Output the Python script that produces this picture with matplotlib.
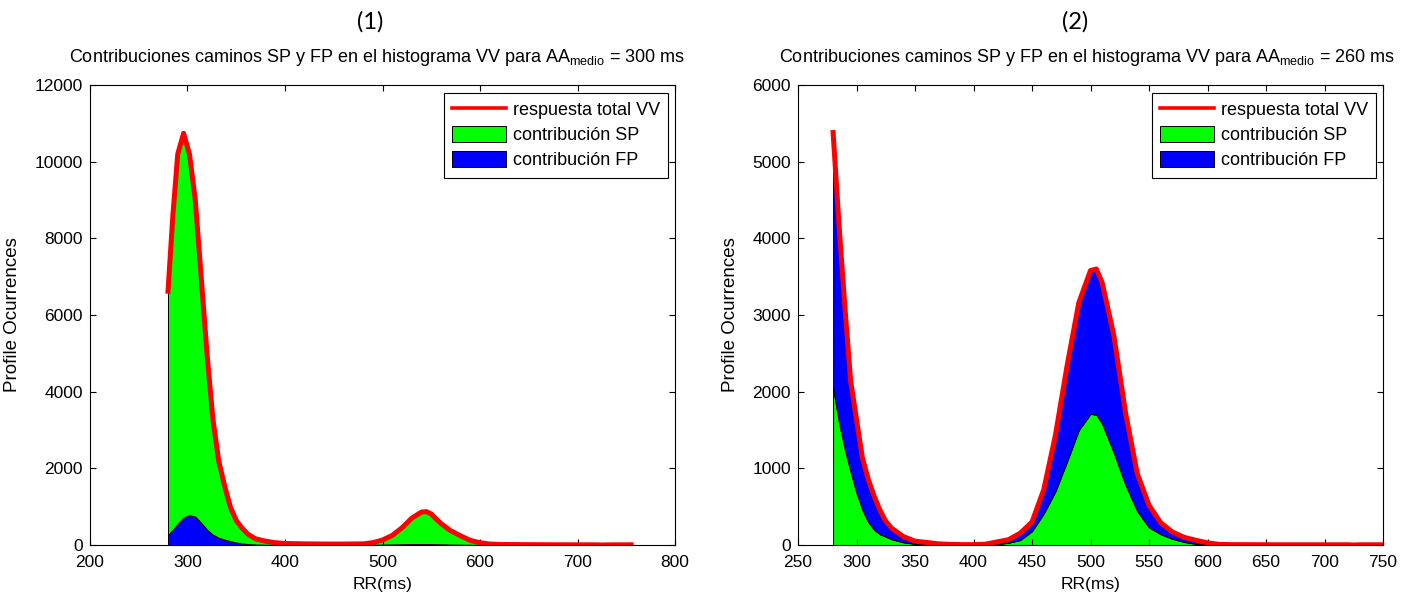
import matplotlib.pyplot as plt
from matplotlib.lines import Line2D
from matplotlib.patches import Patch

plt.rcParams['font.family'] = ['Liberation Sans', 'DejaVu Sans']
plt.rcParams['mathtext.fontset'] = 'custom'
plt.rcParams['mathtext.rm'] = 'Liberation Sans'
plt.rcParams['mathtext.it'] = 'Liberation Sans'

# --- panel (1): AA medio = 300 ms ---
rr1 = [280, 285, 290, 296, 302, 308, 314, 320, 326, 332, 338, 344, 350, 356,
       362, 370, 380, 390, 400, 420, 440, 460, 480, 490, 500, 510, 520, 530,
       540, 545, 550, 555, 560, 570, 580, 590, 600, 610, 620, 640, 660, 680,
       700, 720, 725, 730, 740, 755]
total1 = [6620, 8600, 10200, 10740, 10200, 9000, 7000, 5000, 3300, 2200, 1550,
          990, 640, 440, 280, 160, 100, 60, 40, 30, 25, 25, 30, 60, 130, 250,
          450, 700, 860, 870, 810, 680, 560, 370, 240, 120, 60, 25, 15, 10, 8,
          6, 5, 4, 0, 3, 5, 5]
fp1 = [260, 400, 560, 720, 780, 740, 580, 400, 270, 190, 140, 100, 65, 40, 25,
       12, 6, 4, 3, 2, 2, 2, 3, 5, 10, 15, 20, 25, 25, 25, 25, 20, 18, 12, 8,
       5, 3, 2, 1, 0, 0, 0, 0, 0, 0, 0, 0, 0]

# --- panel (2): AA medio = 260 ms ---
rr2 = [280, 285, 290, 295, 300, 305, 310, 315, 320, 325, 330, 340, 350, 360,
       370, 380, 390, 400, 410, 420, 430, 440, 450, 460, 470, 480, 490, 500,
       505, 510, 520, 530, 540, 550, 560, 570, 580, 590, 600, 610, 620, 640,
       660, 680, 700, 720, 725, 730, 750]
total2 = [5380, 4190, 3120, 2140, 1640, 1140, 860, 640, 455, 310, 220, 110, 50,
          33, 15, 8, 5, 5, 10, 40, 70, 155, 300, 720, 1430, 2340, 3160, 3580,
          3600, 3420, 2730, 1720, 930, 520, 290, 170, 100, 62, 28, 8, 5, 4, 3,
          3, 3, 3, 0, 3, 3]
sp2 = [2050, 1600, 1250, 950, 680, 460, 300, 200, 140, 110, 75, 35, 15, 8, 5,
       3, 2, 2, 5, 10, 30, 65, 180, 410, 700, 1090, 1500, 1710, 1700, 1580,
       1200, 780, 440, 230, 140, 80, 40, 15, 5, 2, 1, 0, 0, 0, 0, 0, 0, 0, 0]

xticks1 = [200, 300, 400, 500, 600, 700, 800]
yticks1 = [0, 2000, 4000, 6000, 8000, 10000, 12000]
xticks2 = [250, 300, 350, 400, 450, 500, 550, 600, 650, 700, 750]
yticks2 = [0, 1000, 2000, 3000, 4000, 5000, 6000]

RED = '#ff0000'
GREEN = '#00ff00'
BLUE = '#0000ff'
FS = 12.5

W, H = 1413, 594
fig = plt.figure(figsize=(W / 100, H / 100), dpi=100)


def panel(ax, rr, lower, total, c_low, c_up, xticks, yticks):
    ax.fill_between(rr, 0, lower, facecolor=c_low, edgecolor='k', lw=0.7)
    ax.fill_between(rr, lower, total, facecolor=c_up, edgecolor='k', lw=0.7)
    ax.plot(rr, total, color=RED, lw=3.6)
    ax.set_xlim(xticks[0], xticks[-1])
    ax.set_ylim(yticks[0], yticks[-1])
    ax.set_xticks(xticks)
    ax.set_yticks(yticks)
    ax.tick_params(direction='in', top=True, right=True, length=4, width=0.8,
                   labelsize=FS)
    ax.tick_params(axis='x', pad=7)
    ax.tick_params(axis='y', pad=5)
    for s in ax.spines.values():
        s.set_linewidth(0.8)
    handles = [Line2D([], [], color=RED, lw=2.6),
               Patch(facecolor=GREEN, edgecolor='k', lw=0.7),
               Patch(facecolor=BLUE, edgecolor='k', lw=0.7)]
    labels = ['respuesta total VV', 'contribución SP', 'contribución FP']
    leg = ax.legend(handles, labels, loc='upper right',
                    bbox_to_anchor=(0.988, 0.983), borderaxespad=0,
                    fontsize=FS + 0.5, fancybox=False, framealpha=1,
                    handlelength=3.0, handleheight=1.0, handletextpad=0.35,
                    labelspacing=0.38, borderpad=0.45)
    leg.get_frame().set_edgecolor('k')
    leg.get_frame().set_linewidth(0.8)


ax1 = fig.add_axes([90 / W, (H - 545) / H, 585 / W, 460 / H])
panel(ax1, rr1, fp1, total1, BLUE, GREEN, xticks1, yticks1)
ax2 = fig.add_axes([798 / W, (H - 545) / H, 585 / W, 460 / H])
panel(ax2, rr2, sp2, total2, GREEN, BLUE, xticks2, yticks2)

for ax, num, aa, cx, tx in [(ax1, '(1)', 300, 377, 370),
                            (ax2, '(2)', 260, 1087, 1075)]:
    fig.text(tx / W, 1 - 22 / H, num, ha='center', va='center',
             fontsize=17, family=['Lato', 'DejaVu Sans'])
    fig.text(cx / W, 1 - 57 / H,
             'Contribuciones caminos SP y FP en el histograma VV para '
             r'AA$_{\mathrm{medio}}$ = %d ms' % aa,
             ha='center', va='center', fontsize=13)
    ax.set_xlabel('RR(ms)', fontsize=FS, labelpad=5)
    ax.set_ylabel('Profile Ocurrences', fontsize=FS + 1, labelpad=10)

fig.savefig('out.png', dpi=100)
